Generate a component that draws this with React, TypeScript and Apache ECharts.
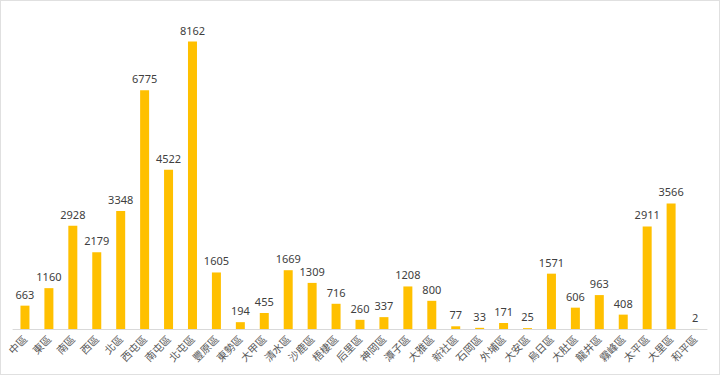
import React, { useEffect, useRef } from "react";
import * as echarts from "echarts";

const categories = ["中區","東區","南區","西區","北區","西屯區","南屯區","北屯區","豐原區","東勢區","大甲區","清水區","沙鹿區","梧棲區","后里區","神岡區","潭子區","大雅區","新社區","石岡區","外埔區","大安區","烏日區","大肚區","龍井區","霧峰區","太平區","大里區","和平區"];
const values = [663,1160,2928,2179,3348,6775,4522,8162,1605,194,455,1669,1309,716,260,337,1208,800,77,33,171,25,1571,606,963,408,2911,3566,2];

export default function App() {
  const ref = useRef<HTMLDivElement>(null);
  useEffect(() => {
    document.body.style.margin = "0";
    const chart = echarts.init(ref.current!, null, { renderer: "svg" });
    chart.setOption({
      animation: false,
      backgroundColor: "#ffffff",
      grid: { left: 12, right: 12, top: 11, bottom: 45 },
      xAxis: {
        type: "category",
        data: categories,
        axisLine: { lineStyle: { color: "#d9d9d9" } },
        axisTick: { show: false },
        axisLabel: {
          interval: 0,
          rotate: 45,
          fontSize: 10.5,
          color: "#595959",
          fontFamily: "Noto Sans CJK TC",
          margin: 8,
        },
      },
      yAxis: { type: "value", min: 0, max: 9000, show: false, splitLine: { show: false } },
      series: [
        {
          type: "bar",
          data: values,
          barWidth: 9,
          itemStyle: { color: "#FFC000" },
          label: {
            show: true,
            position: "top",
            distance: 6,
            fontSize: 11,
            color: "#404040",
            fontFamily: "Noto Sans",
          },
        },
      ],
    });
    return () => chart.dispose();
  }, []);
  return (
    <div
      ref={ref}
      style={{ width: 720, height: 375, boxSizing: "border-box", border: "1px solid #e0e0e0" }}
    />
  );
}
